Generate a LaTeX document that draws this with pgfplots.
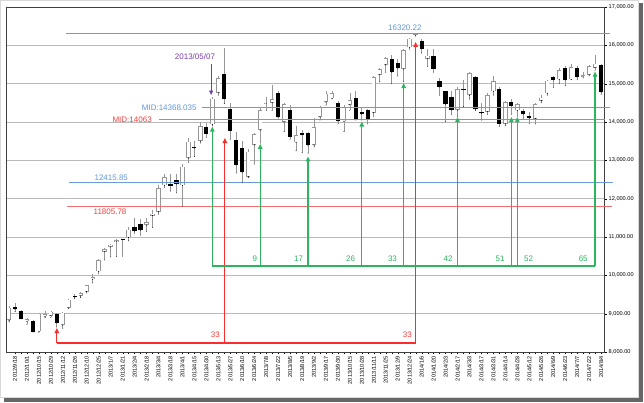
\documentclass[border=0pt]{standalone}
\usepackage{fontspec}
\setmainfont{Liberation Sans}
\usepackage{pgfplots}
\usepackage{pgfplotstable}
\pgfplotsset{compat=1.18}
\usetikzlibrary{arrows.meta}

\definecolor{lblue}{RGB}{105,155,215}
\definecolor{lbluetxt}{RGB}{95,150,215}
\definecolor{lred}{RGB}{240,110,110}
\definecolor{redtxt}{RGB}{245,60,60}
\definecolor{boxred}{RGB}{250,45,45}
\definecolor{boxgreen}{RGB}{45,180,95}
\definecolor{purp}{RGB}{120,60,170}
\definecolor{wick}{RGB}{150,150,150}
\definecolor{gridc}{RGB}{185,185,185}

\newcommand{\annot}{\fontsize{8}{9}\selectfont}

\pgfplotsset{
  candle/.style={only marks, mark=*, mark size=0.1pt,
    mark options={draw=none, fill=none}, forget plot,
    error bars/.cd, y dir=plus, y explicit, error mark=none,
    error bar style={#1}},
}
\tikzset{
  lvl/.style={line width=1.1pt},
  cnt/.style={line width=1.1pt, -{Triangle[length=5pt,width=4.5pt]}},
}

% weekly candles, i = week index from 2012/9/10
\pgfplotstableread{
i O H L C
0 8830 9200 8780 9159
1 9170 9288 9050 9110
2 9080 9100 8860 8870
3 8800 8880 8720 8863
4 8820 8830 8520 8534
5 8540 9030 8510 9002
6 8930 9070 8890 8990
7 8950 9060 8900 9050
8 9000 9010 8650 8757
9 8700 9050 8619 9024
10 9150 9390 9140 9367
11 9460 9500 9390 9430
12 9460 9560 9420 9527
13 9570 9760 9540 9737
14 9900 10030 9800 9950
15 10100 10430 10050 10395
16 10620 10700 10400 10688
17 10740 10820 10480 10801
18 10880 10960 10486 10913
19 10950 10960 10500 10926
20 10990 11260 10900 11191
21 11260 11500 11100 11153
22 11340 11480 11050 11173
23 11310 11500 11150 11385
24 11560 11700 11250 11606
25 11660 12350 11600 12283
26 12350 12650 12300 12560
27 12380 12650 12200 12338
28 12490 12650 12150 12380
29 12350 12900 11805.78 12833
30 13060 13590 12950 13485
31 13350 13500 13100 13316
32 13500 13990 13450 13884
33 13860 13980 13600 13694
34 13940 14650 13900 14607
35 14760 15200 14700 15138
36 15250 15942 14480 14612
37 14340 14500 13550 13774
38 13530 13750 12670 12877
39 13320 13500 12415.85 12686
40 12570 13300 12550 13230
41 13400 13700 12900 13677
42 13790 14400 13450 14309
43 14480 14650 14300 14506
44 14500 14953 14300 14589
45 14760 14800 14100 14129
46 14000 14500 13750 14466
47 14310 14450 13550 13615
48 13470 13900 13250 13650
49 13700 13800 13200 13660
50 13700 13750 13188 13388
51 13400 14100 13350 13860
52 14130 14420 14050 14404
53 14520 14800 14440 14742
54 14620 14820 14600 14760
55 14500 14560 13950 14024
56 14020 14450 13750 14404
57 14450 14750 14300 14561
58 14620 14800 14050 14088
59 14260 14400 14050 14201
60 14300 14350 13950 14086
61 14240 15200 14150 15165
62 15230 15400 15050 15381
63 15490 15700 15300 15661
64 15640 15750 15000 15299
65 15550 15650 15200 15403
66 15380 15900 15050 15870
67 15950 16200 15900 16178
68 16260 16320.22 16240 16291
69 16120 16164 15800 15912
70 15650 15900 15450 15734
71 15710 15900 15300 15391
72 15070 15150 14700 14914
73 14800 14800 14008 14462
74 14640 14800 14200 14313
75 14310 14900 14150 14865
76 14860 15100 14400 14841
77 14700 15300 14600 15274
78 15180 15200 14300 14327
79 14260 14500 14050 14224
80 14270 14750 14200 14696
81 14800 15200 14700 15063
82 14860 14900 13885 13960
83 13950 14550 13900 14516
84 14530 14600 14200 14429
85 14300 14500 14150 14457
86 14290 14350 14100 14199
87 14160 14250 13964 14097
88 14090 14500 13950 14462
89 14560 14700 14500 14632
90 14750 15100 14700 15077
91 15180 15200 14900 15097
92 15110 15400 15000 15349
93 15400 15450 14950 15095
94 15110 15500 15100 15437
95 15400 15450 15100 15164
96 15180 15300 15150 15215
97 15230 15480 15200 15457
98 15420 15759 15350 15523
99 15480 15500 14720 14778
}\candles

\begin{document}
\begin{tikzpicture}
\useasboundingbox (0,0) rectangle (644pt,403pt);
% screenshot frame and drop shadow
\fill[black!60] (4pt,1pt) rectangle (643pt,6pt);
\fill[black!60] (638pt,1pt) rectangle (643pt,400pt);
\draw[black!15] (0.5pt,6pt) rectangle (638pt,402.5pt);

\begin{axis}[
  at={(6pt,51pt)}, anchor=south west,
  scale only axis, width=598pt, height=345pt,
  xmin=-0.5, xmax=99.5, ymin=8000, ymax=17000,
  clip=false,
  axis line style={black!75},
  xtick={1,3,...,99},
  minor x tick num=1,
  xticklabels={2012/9/18,2012/10/1,2012/10/15,2012/10/29,2012/11/12,2012/11/26,2012/12/10,2012/12/25,
    2013/1/7,2013/1/21,2013/2/4,2013/2/18,2013/3/4,2013/3/18,2013/4/1,2013/4/15,2013/4/30,2013/5/13,
    2013/5/27,2013/6/10,2013/6/24,2013/7/8,2013/7/22,2013/8/5,2013/8/19,2013/9/2,2013/9/17,2013/9/30,
    2013/10/15,2013/10/28,2013/11/11,2013/11/25,2013/12/9,2013/12/24,2014/1/6,2014/1/20,2014/2/3,
    2014/2/17,2014/3/3,2014/3/17,2014/3/31,2014/4/14,2014/4/28,2014/5/12,2014/5/26,2014/6/9,
    2014/6/23,2014/7/7,2014/7/22,2014/8/4},
  xticklabel style={rotate=90, anchor=east, inner sep=1.5pt},
  xtick pos=bottom,
  ytick={8000,9000,...,17000},
  ytick pos=right, yticklabel pos=right,
  yticklabel style={inner sep=2pt},
  tick align=outside,
  major tick length=2.5pt, minor tick length=2pt,
  tick style={black},
  scaled y ticks=false,
  /pgf/number format/fixed, /pgf/number format/fixed zerofill,
  /pgf/number format/precision=2, /pgf/number format/1000 sep={,},
  /pgf/number format/assume math mode=true,
  tick label style={font=\fontsize{5.6}{6}\selectfont},
  ymajorgrids, grid style={gridc, line width=0.8pt},
]
% wicks
\addplot[candle={wick, line width=0.7pt}]
  table[x=i, y=L, y error expr=\thisrow{H}-\thisrow{L}] {\candles};
% falling weeks: black bodies
\addplot[candle={black, line width=4.2pt}]
  table[x=i, y expr={\thisrow{C}<\thisrow{O} ? \thisrow{C} : nan},
        y error expr=\thisrow{O}-\thisrow{C}] {\candles};
% rising weeks: hollow bodies
\addplot[candle={wick, line width=4.4pt}]
  table[x=i, y expr={\thisrow{C}<\thisrow{O} ? nan : \thisrow{O}},
        y error expr=\thisrow{C}-\thisrow{O}] {\candles};
\addplot[candle={white, line width=3.0pt, shorten <=0.7pt, shorten >=0.7pt}]
  table[x=i, y expr={\thisrow{C}<\thisrow{O} ? nan : \thisrow{O}},
        y error expr=\thisrow{C}-\thisrow{O}] {\candles};

% level lines
\draw[lblue, lvl] (axis cs:9.5,16320.22) -- (axis cs:100.5,16320.22);
\node[lbluetxt, font=\annot, anchor=south, inner sep=0pt, yshift=2pt] at (axis cs:66.2,16320.22) {16320.22};
\draw[lblue, lvl] (axis cs:32.3,14368.035) -- (axis cs:100.5,14368.035);
\node[lbluetxt, font=\annot, anchor=east, inner sep=0pt] at (axis cs:31.4,14368.035) {MID:14368.035};
\draw[lred, lvl] (axis cs:25.1,14063) -- (axis cs:99.7,14063);
\node[redtxt, font=\annot, anchor=east, inner sep=0pt] at (axis cs:23.9,14063) {MID:14063};
\draw[lblue, lvl] (axis cs:10,12415.85) -- (axis cs:101,12415.85);
\node[lbluetxt, font=\annot, anchor=south, inner sep=0pt, yshift=2pt] at (axis cs:17.1,12415.85) {12415.85};
\draw[lred, lvl] (axis cs:9.7,11805.78) -- (axis cs:100.8,11805.78);
\node[redtxt, font=\annot, anchor=north, inner sep=0pt, yshift=-3pt] at (axis cs:16.9,11805.78) {11805.78};

% 2013/05/07 marker
\node[purp, font=\annot, inner sep=0pt] at (axis cs:31.1,15695) {2013/05/07};
\draw[purp, line width=0.8pt, -{Triangle[length=4.5pt,width=4pt]}] (axis cs:33.8,15500) -- (axis cs:33.8,14704);

% red count box
\draw[boxred, lvl] (axis cs:8,8234) -- (axis cs:68,8234);
\draw[boxred, cnt] (axis cs:8,8234) -- (axis cs:8,8625);
\draw[boxred, cnt] (axis cs:36.1,8234) -- (axis cs:36.1,13582);
\draw[boxred, cnt] (axis cs:68,8234) -- (axis cs:68,16087);
\node[redtxt, font=\annot, anchor=east, inner sep=0pt] at (axis cs:35.3,8443) {33};
\node[redtxt, font=\annot, anchor=east, inner sep=0pt] at (axis cs:67.4,8443) {33};

% green count box
\draw[boxgreen, lvl] (axis cs:34,10243) -- (axis cs:98,10243);
\foreach \xx/\yy in {34/13880, 42/13430, 50/13100, 59/14010, 66/15017, 75/14130, 84/14130, 85/14130, 98/15315} {
  \edef\tmp{\noexpand\draw[boxgreen, cnt] (axis cs:\xx,10243) -- (axis cs:\xx,\yy);}
  \tmp
}
\foreach \xx/\lab in {41.5/9, 49.2/17, 57.9/26, 64.9/33, 74.2/42, 82.9/51, 96.8/65} {
  \edef\tmp{\noexpand\node[boxgreen, font=\noexpand\annot, anchor=east, inner sep=0pt] at (axis cs:\xx,10425) {\lab};}
  \tmp
}
\node[boxgreen, font=\annot, anchor=west, inner sep=0pt] at (axis cs:86.1,10425) {52};
\end{axis}
\end{tikzpicture}
\end{document}
